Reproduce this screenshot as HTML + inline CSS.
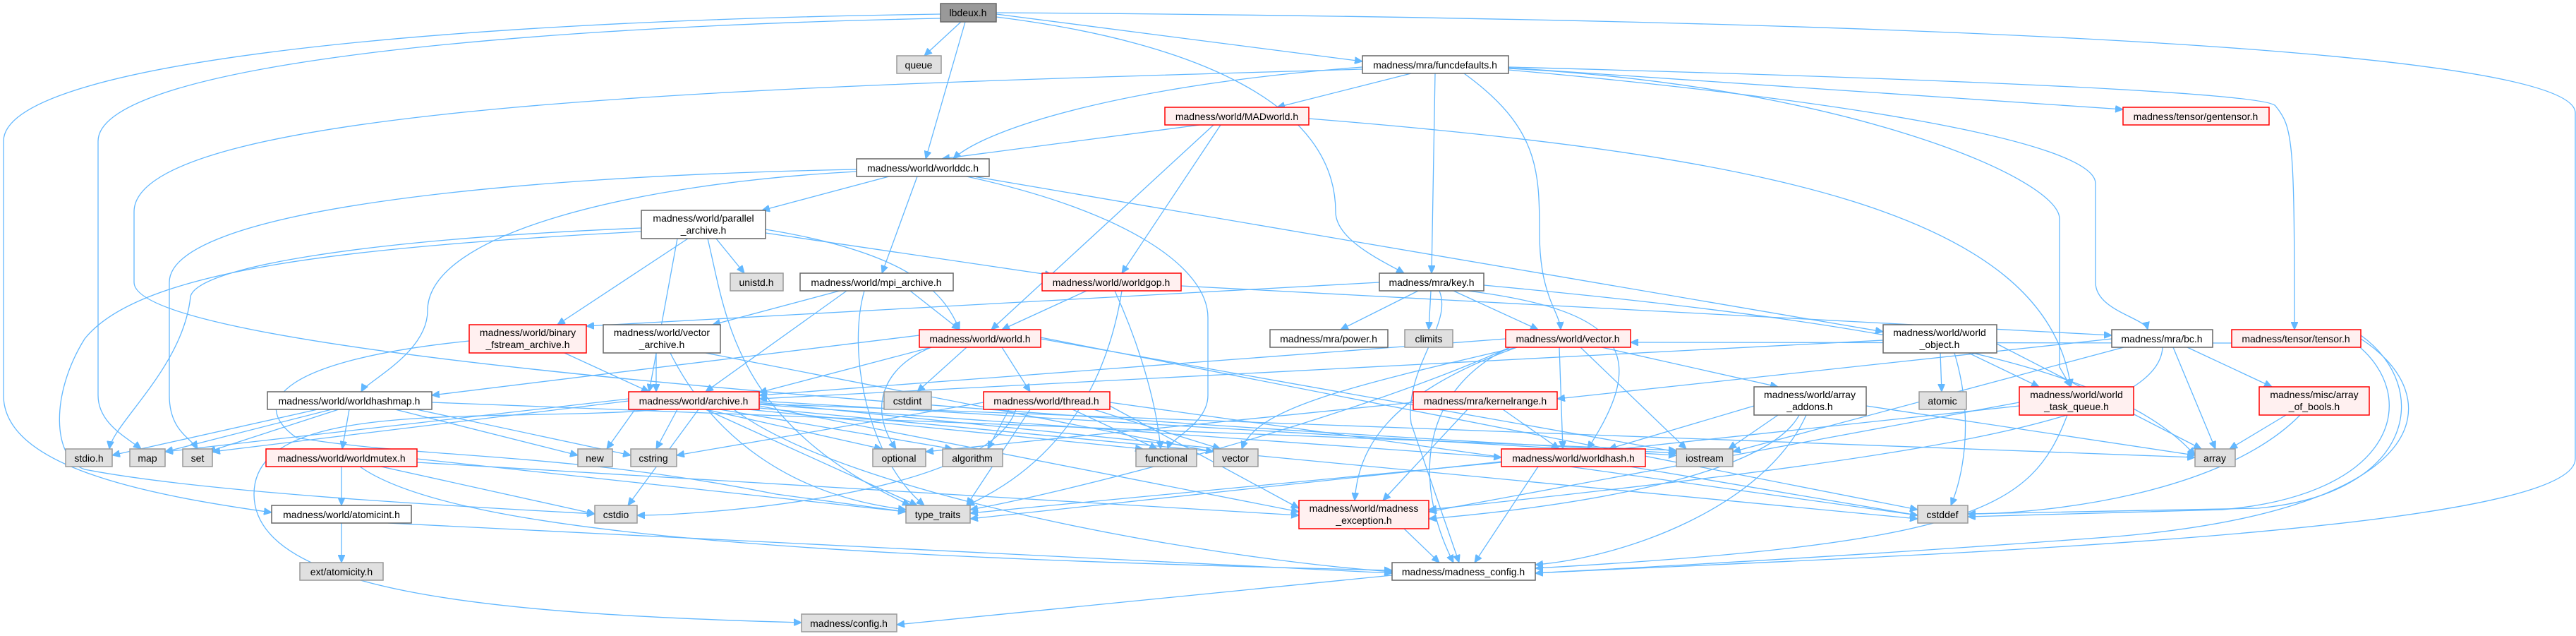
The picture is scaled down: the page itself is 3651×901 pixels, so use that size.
<!DOCTYPE html>
<html><head><meta charset="utf-8"><style>
html,body{margin:0;padding:0;background:#fff;}
svg{display:block;}
text{font-family:"Liberation Sans",sans-serif;font-size:14px;fill:#000;text-anchor:middle;}
.e path{fill:none;stroke:#63b8ff;stroke-width:1.3;marker-end:url(#a);}
.g{fill:#e0e0e0;stroke:#999999;stroke-width:1.5;}
.w{fill:#ffffff;stroke:#666666;stroke-width:1.5;}
.r{fill:#fff0f0;stroke:#ff0000;stroke-width:1.5;}
.root{fill:#999999;stroke:#666666;stroke-width:1.5;}
</style></head><body>
<svg width="3651" height="901" viewBox="0 0 3651 901" xmlns="http://www.w3.org/2000/svg">
<defs><marker id="a" markerUnits="userSpaceOnUse" markerWidth="12" markerHeight="10" refX="11" refY="5" orient="auto"><path d="M0,0 L11,5 L0,10 z" fill="#63b8ff" stroke="#63b8ff"/></marker></defs>
<g class="e">
<path d="M1362,31 L1310,79"/>
<path d="M1368,31 L1312,225"/>
<path d="M1412,20 L1931,87"/>
<path d="M1412,24 C1700,60 1893,150 1893,300 C1893,340 1960,370 1990,387"/>
<path d="M1412,18 C2500,25 3650,60 3650,160 L3650,650 C3650,760 2600,790 2176,812"/>
<path d="M1333,20 C600,30 5,90 5,200 L5,560 C5,660 200,700 385,726"/>
<path d="M1333,26 C650,40 139,100 139,200 L139,560 C139,600 180,620 200,636"/>
<path d="M1931,95 C1600,120 1400,180 1351,225"/>
<path d="M1931,98 C1200,120 190,140 190,300 L190,400 C190,480 900,560 2376,642"/>
<path d="M2000,104 L1810,152"/>
<path d="M2034,104 L2029,387"/>
<path d="M2075,104 C2180,180 2182,240 2182,330 C2182,420 2210,440 2212,467"/>
<path d="M2138,96 L3009,155"/>
<path d="M2138,95 C2700,110 3210,130 3225,150 C3250,180 3252,200 3252,467"/>
<path d="M2138,97 C2600,120 2919,250 2919,310 L2919,520 L2935,548"/>
<path d="M2138,99 C2600,140 2970,200 2970,260 L2970,400 C2970,440 3040,450 3044,467"/>
<path d="M1700,177 L1335,225"/>
<path d="M1730,177 L1590,387"/>
<path d="M1720,177 L1405,467"/>
<path d="M1855,168 C2500,220 2900,300 2935,548"/>
<path d="M1260,250 L1080,298"/>
<path d="M1300,250 L1250,387"/>
<path d="M1380,250 L2669,470"/>
<path d="M1370,250 C1600,300 1712,380 1712,450 L1712,560 C1712,600 1660,620 1655,636"/>
<path d="M1214,243 C900,260 606,330 606,440 C606,500 520,540 512,555"/>
<path d="M1214,240 C700,250 240,300 240,400 L240,560 C240,610 270,620 280,636"/>
<path d="M975,338 L790,460"/>
<path d="M1015,338 L1055,387"/>
<path d="M1085,325 C1300,360 1340,420 1360,467"/>
<path d="M1085,330 L1492,390"/>
<path d="M960,338 L920,555"/>
<path d="M909,328 C500,350 200,380 120,480 C70,560 75,650 120,665 C300,700 700,720 843,728"/>
<path d="M909,323 C500,340 280,380 270,420 C260,520 160,600 155,636"/>
<path d="M1003,338 C1030,450 1040,600 1290,716"/>
<path d="M1290,412 L1360,467"/>
<path d="M1200,412 L1000,555"/>
<path d="M1190,412 L1010,460"/>
<path d="M1225,412 C1200,500 1230,650 1310,716"/>
<path d="M1540,412 L1420,467"/>
<path d="M1580,412 C1620,500 1640,580 1645,636"/>
<path d="M1590,412 C1560,600 1450,680 1370,716"/>
<path d="M1674,405 L2993,475"/>
<path d="M1955,400 L831,462"/>
<path d="M2010,412 L1900,467"/>
<path d="M2028,412 L2025,467"/>
<path d="M2060,412 L2180,467"/>
<path d="M2080,412 C2300,440 2340,500 2250,636"/>
<path d="M2103,404 C2700,460 3000,520 3111,645"/>
<path d="M2040,412 C2060,460 1990,520 2000,600 L2068,797"/>
<path d="M1303,475 L612,560"/>
<path d="M1320,492 L1076,556"/>
<path d="M1370,492 L1300,555"/>
<path d="M1420,492 L1460,555"/>
<path d="M1320,492 C1250,520 1230,580 1270,636"/>
<path d="M1475,480 L2376,640"/>
<path d="M1475,478 L2718,722"/>
<path d="M2134,480 L1076,560"/>
<path d="M2210,492 L2215,636"/>
<path d="M2240,492 L2390,636"/>
<path d="M2150,492 C1900,550 1780,580 1760,636"/>
<path d="M2150,492 C1960,560 1925,640 1920,709"/>
<path d="M2270,492 L2520,548"/>
<path d="M2140,492 C2000,560 2010,700 2060,797"/>
<path d="M2140,492 C1900,600 1500,700 1375,722"/>
<path d="M2669,482 L1076,565"/>
<path d="M2790,500 L2890,548"/>
<path d="M2750,500 L2752,555"/>
<path d="M2770,500 C2800,600 2780,680 2765,716"/>
<path d="M2830,487 L3120,636"/>
<path d="M3080,492 L3140,636"/>
<path d="M3100,492 L3220,548"/>
<path d="M2993,480 L2207,565"/>
<path d="M3065,492 C3060,600 2700,650 2025,722"/>
<path d="M3010,492 L2456,640"/>
<path d="M3346,475 C3450,550 3420,700 3200,720 L2789,728"/>
<path d="M3340,488 C3430,560 3400,700 3150,722 L2789,732"/>
<path d="M3346,480 C3470,560 3460,720 3000,760 C2600,790 2300,805 2176,812"/>
<path d="M3163,486 L2311,485"/>
<path d="M960,580 L930,636"/>
<path d="M900,580 L860,636"/>
<path d="M1000,580 L1250,636"/>
<path d="M1020,580 L1350,636"/>
<path d="M1076,570 L1730,636"/>
<path d="M1000,580 L1300,716"/>
<path d="M990,580 L890,716"/>
<path d="M1076,575 L1841,725"/>
<path d="M1076,572 L3111,648"/>
<path d="M1076,568 L2376,645"/>
<path d="M940,580 C700,600 360,560 360,700 C360,840 700,870 1136,882"/>
<path d="M891,565 L234,640"/>
<path d="M891,568 L301,640"/>
<path d="M1076,573 L2128,648"/>
<path d="M1060,580 L1620,636"/>
<path d="M1076,578 L2718,735"/>
<path d="M1040,580 C1200,700 1700,790 1973,810"/>
<path d="M1394,570 L959,645"/>
<path d="M1520,580 L1640,636"/>
<path d="M1550,580 L1730,636"/>
<path d="M1460,580 L1370,716"/>
<path d="M1440,580 C1400,700 1000,730 903,730"/>
<path d="M1430,580 L1400,636"/>
<path d="M1573,575 L1841,720"/>
<path d="M1573,570 L2718,730"/>
<path d="M2130,580 L2210,636"/>
<path d="M2080,580 L1960,709"/>
<path d="M2003,570 L1312,640"/>
<path d="M2486,575 L2280,636"/>
<path d="M2520,588 L2450,636"/>
<path d="M2645,575 L3111,645"/>
<path d="M2550,588 C2500,680 2200,720 2025,735"/>
<path d="M2560,588 C2500,720 2300,790 2176,800"/>
<path d="M2862,575 L1375,735"/>
<path d="M2930,588 C2880,720 2800,770 2176,805"/>
<path d="M2862,570 L2025,725"/>
<path d="M3240,588 L3160,636"/>
<path d="M3260,588 C3150,700 2900,728 2789,728"/>
<path d="M495,580 L485,636"/>
<path d="M450,580 L159,645"/>
<path d="M470,580 L234,640"/>
<path d="M480,580 L295,640"/>
<path d="M560,580 L819,645"/>
<path d="M590,580 L894,645"/>
<path d="M612,570 L2376,638"/>
<path d="M484,661 L484,716"/>
<path d="M540,661 L843,728"/>
<path d="M591,650 L1284,725"/>
<path d="M510,661 C650,760 1200,790 1973,808"/>
<path d="M591,655 L1841,730"/>
<path d="M484,741 L484,797"/>
<path d="M550,741 L1973,812"/>
<path d="M800,500 L920,555"/>
<path d="M665,483 C400,510 350,570 420,620 C600,650 800,640 1100,700 L1284,725"/>
<path d="M930,500 L930,555"/>
<path d="M1000,500 L1720,640"/>
<path d="M950,500 C1000,600 1100,700 1284,722"/>
<path d="M2180,661 L2090,797"/>
<path d="M2310,661 L2718,730"/>
<path d="M2128,655 L1375,727"/>
<path d="M1990,749 L2040,797"/>
<path d="M1973,815 L1271,885"/>
</g>
<g>
<rect class="root" x="1333" y="5" width="79" height="26"/><text x="1372" y="23">lbdeux.h</text>
<rect class="g" x="1271" y="79" width="63" height="25"/><text x="1302" y="97">queue</text>
<rect class="w" x="1931" y="79" width="207" height="25"/><text x="2034" y="97">madness/mra/funcdefaults.h</text>
<rect class="r" x="1651" y="152" width="204" height="25"/><text x="1753" y="170">madness/world/MADworld.h</text>
<rect class="r" x="3009" y="152" width="207" height="25"/><text x="3112" y="170">madness/tensor/gentensor.h</text>
<rect class="w" x="1214" y="225" width="188" height="25"/><text x="1308" y="243">madness/world/worlddc.h</text>
<rect class="w" x="909" y="298" width="176" height="40"/><text x="997" y="314">madness/world/parallel</text><text x="997" y="331">_archive.h</text>
<rect class="g" x="1035" y="387" width="75" height="25"/><text x="1072" y="405">unistd.h</text>
<rect class="w" x="1134" y="387" width="217" height="25"/><text x="1242" y="405">madness/world/mpi_archive.h</text>
<rect class="r" x="1477" y="387" width="197" height="25"/><text x="1575" y="405">madness/world/worldgop.h</text>
<rect class="w" x="1955" y="387" width="148" height="25"/><text x="2029" y="405">madness/mra/key.h</text>
<rect class="r" x="665" y="460" width="166" height="40"/><text x="748" y="476">madness/world/binary</text><text x="748" y="493">_fstream_archive.h</text>
<rect class="w" x="855" y="460" width="166" height="40"/><text x="938" y="476">madness/world/vector</text><text x="938" y="493">_archive.h</text>
<rect class="r" x="1303" y="467" width="172" height="25"/><text x="1389" y="485">madness/world/world.h</text>
<rect class="w" x="1800" y="467" width="167" height="25"/><text x="1883" y="485">madness/mra/power.h</text>
<rect class="g" x="1991" y="467" width="68" height="25"/><text x="2025" y="485">climits</text>
<rect class="r" x="2134" y="467" width="177" height="25"/><text x="2222" y="485">madness/world/vector.h</text>
<rect class="w" x="2669" y="460" width="161" height="40"/><text x="2749" y="476">madness/world/world</text><text x="2749" y="493">_object.h</text>
<rect class="w" x="2993" y="467" width="143" height="25"/><text x="3064" y="485">madness/mra/bc.h</text>
<rect class="r" x="3163" y="467" width="183" height="25"/><text x="3254" y="485">madness/tensor/tensor.h</text>
<rect class="w" x="379" y="555" width="233" height="25"/><text x="495" y="573">madness/world/worldhashmap.h</text>
<rect class="r" x="891" y="555" width="185" height="25"/><text x="983" y="573">madness/world/archive.h</text>
<rect class="g" x="1253" y="555" width="67" height="25"/><text x="1286" y="573">cstdint</text>
<rect class="r" x="1394" y="555" width="179" height="25"/><text x="1483" y="573">madness/world/thread.h</text>
<rect class="r" x="2003" y="555" width="204" height="25"/><text x="2105" y="573">madness/mra/kernelrange.h</text>
<rect class="w" x="2486" y="548" width="159" height="40"/><text x="2565" y="564">madness/world/array</text><text x="2565" y="581">_addons.h</text>
<rect class="g" x="2720" y="555" width="67" height="25"/><text x="2753" y="573">atomic</text>
<rect class="r" x="2862" y="548" width="162" height="40"/><text x="2943" y="564">madness/world/world</text><text x="2943" y="581">_task_queue.h</text>
<rect class="r" x="3202" y="548" width="156" height="40"/><text x="3280" y="564">madness/misc/array</text><text x="3280" y="581">_of_bools.h</text>
<rect class="g" x="93" y="636" width="66" height="25"/><text x="126" y="654">stdio.h</text>
<rect class="g" x="184" y="636" width="50" height="25"/><text x="209" y="654">map</text>
<rect class="g" x="259" y="636" width="42" height="25"/><text x="280" y="654">set</text>
<rect class="r" x="377" y="636" width="214" height="25"/><text x="484" y="654">madness/world/worldmutex.h</text>
<rect class="g" x="819" y="636" width="49" height="25"/><text x="843" y="654">new</text>
<rect class="g" x="894" y="636" width="65" height="25"/><text x="926" y="654">cstring</text>
<rect class="g" x="1237" y="636" width="75" height="25"/><text x="1274" y="654">optional</text>
<rect class="g" x="1336" y="636" width="85" height="25"/><text x="1378" y="654">algorithm</text>
<rect class="g" x="1610" y="636" width="86" height="25"/><text x="1653" y="654">functional</text>
<rect class="g" x="1720" y="636" width="63" height="25"/><text x="1751" y="654">vector</text>
<rect class="r" x="2128" y="636" width="204" height="25"/><text x="2230" y="654">madness/world/worldhash.h</text>
<rect class="g" x="2376" y="636" width="80" height="25"/><text x="2416" y="654">iostream</text>
<rect class="g" x="3111" y="636" width="57" height="25"/><text x="3139" y="654">array</text>
<rect class="w" x="385" y="716" width="198" height="25"/><text x="484" y="734">madness/world/atomicint.h</text>
<rect class="g" x="843" y="716" width="60" height="25"/><text x="873" y="734">cstdio</text>
<rect class="g" x="1284" y="716" width="91" height="25"/><text x="1329" y="734">type_traits</text>
<rect class="r" x="1841" y="709" width="184" height="40"/><text x="1933" y="725">madness/world/madness</text><text x="1933" y="742">_exception.h</text>
<rect class="g" x="2718" y="716" width="71" height="25"/><text x="2753" y="734">cstddef</text>
<rect class="g" x="425" y="797" width="118" height="25"/><text x="484" y="815">ext/atomicity.h</text>
<rect class="w" x="1973" y="797" width="203" height="25"/><text x="2074" y="815">madness/madness_config.h</text>
<rect class="g" x="1136" y="870" width="135" height="25"/><text x="1203" y="888">madness/config.h</text>
</g>
</svg>
</body></html>
